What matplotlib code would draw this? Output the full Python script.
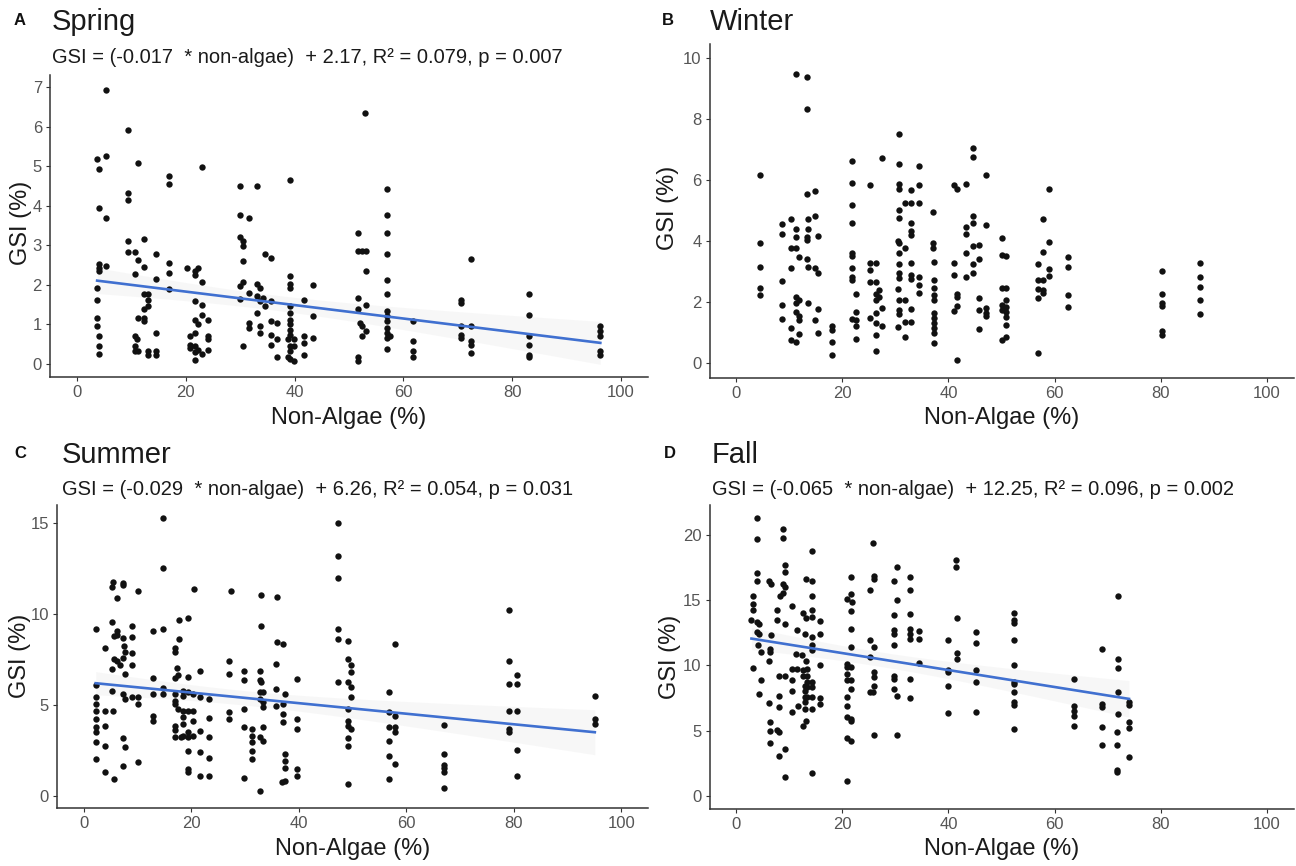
import matplotlib
matplotlib.use("Agg")
import matplotlib.pyplot as plt
import numpy as np

plt.rcParams['font.family'] = ['Liberation Sans', 'DejaVu Sans']

# ---------------- data ----------------
spring_points = [
    (5.4,6.92),(9.3,5.92),(3.7,5.18),(5.4,5.25),(4.1,4.93),(11.3,5.09),(16.9,4.76),(16.9,4.55),(9.3,4.33),(9.3,4.14),
    (23.0,4.98),(29.9,4.50),(33.0,4.50),(39.2,4.64),(53.0,6.34),(57.0,4.41),(4.1,3.93),(5.4,3.68),(29.9,3.76),(31.6,3.68),(57.0,3.76),
    (57.0,3.30),(9.3,3.11),(9.3,2.83),(10.6,2.83),(12.3,3.15),(14.6,2.77),(11.3,2.63),(10.6,2.27),(12.3,2.46),(4.1,2.54),(4.1,2.42),
    (4.1,2.35),(5.4,2.48),(3.7,1.93),(3.7,1.63),(3.7,1.17),(3.7,0.96),(4.1,0.70),(4.1,0.45),(4.1,0.26),(14.6,2.14),(16.9,2.56),
    (16.9,2.31),(16.9,1.90),(12.3,1.76),(13.0,1.76),(13.0,1.63),(13.0,1.46),(12.3,1.38),(11.3,1.17),(12.3,1.17),(12.3,1.08),
    (10.6,0.70),(11.1,0.62),(10.6,0.45),(10.6,0.32),(11.3,0.32),(13.0,0.32),(13.0,0.24),(14.6,0.79),(14.6,0.32),(14.6,0.24),
    (20.3,2.43),(21.7,2.35),(22.2,2.43),(21.7,2.24),(23.0,2.07),(21.7,1.59),(23.0,1.50),(23.0,1.25),(21.7,1.11),(24.1,1.12),
    (22.2,1.00),(20.7,0.70),(21.7,0.79),(24.1,0.70),(24.1,0.62),(20.7,0.49),(21.7,0.45),(20.7,0.41),(22.2,0.36),(23.0,0.26),
    (21.7,0.30),(24.1,0.36),(21.7,0.09),
    (29.9,3.20),(30.6,3.11),(30.6,2.98),(30.6,2.60),(29.9,1.97),(30.6,2.07),(29.9,1.65),(31.6,1.80),(33.0,2.01),(33.7,1.93),
    (33.0,1.72),(33.7,1.59),(34.1,1.67),(34.5,1.46),(35.6,1.59),(33.0,1.29),(31.6,1.04),(31.6,0.91),(33.7,0.96),(33.7,0.79),
    (30.6,0.45),(34.5,2.77),(35.6,2.69),(35.6,1.08),(35.6,0.74),(35.6,0.49),(36.8,1.04),(36.8,0.62),(36.8,0.19),
    (39.2,2.22),(39.2,2.01),(39.2,1.93),(39.2,1.46),(39.2,1.29),(39.2,1.12),(39.2,1.00),(39.2,0.87),(39.2,0.74),(38.7,0.62),
    (39.8,0.62),(39.2,0.45),(39.8,0.45),(39.2,0.32),(38.7,0.19),(39.8,0.07),(39.2,0.13),(41.8,1.63),(41.8,0.70),(41.8,0.53),
    (41.8,0.24),(43.4,1.99),(43.4,1.21),(43.4,0.66),
    (51.7,3.32),(51.7,2.86),(52.3,2.86),(53.1,2.86),(53.1,2.35),(51.7,1.67),(53.1,1.50),(51.7,1.38),(52.1,1.04),(52.3,0.96),
    (53.1,0.83),(52.3,0.70),(51.7,0.19),(51.7,0.07),
    (57.0,2.77),(57.0,2.12),(57.0,1.76),(57.0,1.34),(57.0,1.21),(57.0,1.08),(57.0,0.91),(57.0,0.79),(57.0,0.66),(57.5,0.70),(57.0,0.38),
    (61.7,1.08),(61.7,0.57),(61.7,0.32),(61.7,0.19),
    (70.5,1.63),(70.5,1.55),(70.5,0.96),(70.5,0.74),(70.5,0.66),
    (72.4,2.66),(72.4,0.96),(72.4,0.57),(72.4,0.49),(72.4,0.28),
    (83.1,1.78),(83.1,1.25),(83.1,0.70),(83.1,0.47),(83.1,0.24),(83.1,0.17),
    (96.2,0.96),(96.2,0.83),(96.2,0.70),(96.2,0.32),(96.2,0.24),
]

winter_points = [
    (11.2,9.49),(13.4,9.38),(13.4,8.33),(30.7,7.52),(44.6,7.05),(44.6,6.74),(4.5,6.15),(47.0,6.17),(21.9,6.62),(27.4,6.72),
    (30.7,6.52),(34.4,6.45),(21.9,5.90),(25.3,5.83),(30.7,5.88),(30.7,5.72),(34.4,5.83),(33.0,5.66),(41.0,5.85),(41.6,5.72),
    (43.3,5.88),(58.9,5.72),(13.4,5.55),(14.9,5.63),(21.9,5.17),(31.9,5.25),(33.0,5.25),(34.4,5.25),(30.7,5.01),(37.1,4.94),
    (10.4,4.72),(13.6,4.72),(14.9,4.81),(30.7,4.75),(44.6,4.83),(57.9,4.72),
    (8.6,4.55),(13.6,4.41),(11.2,4.41),(21.9,4.60),(8.6,4.22),(11.2,4.12),(13.4,4.03),(13.4,4.14),(15.4,4.16),(4.5,3.92),
    (10.4,3.76),(11.2,3.76),(11.8,3.49),(13.4,3.40),(10.4,3.11),(13.6,3.16),(14.9,3.11),(15.4,2.94),(4.5,3.16),(4.5,2.45),
    (4.5,2.23),(8.6,2.70),(8.6,1.91),(8.6,1.44),(11.2,2.18),(11.8,2.07),(11.2,1.96),(13.6,1.96),(11.2,1.69),(11.8,1.53),
    (11.8,1.42),(10.4,1.14),(11.8,0.96),(10.4,0.76),(11.2,0.68),(15.4,1.77),(14.9,1.40),(15.4,0.98),(18.0,1.22),(18.0,1.09),
    (18.0,0.68),(18.0,0.27),
    (21.9,3.60),(21.9,3.51),(21.9,3.11),(21.9,2.83),(21.9,2.72),(22.5,2.27),(22.5,1.69),(21.9,1.44),(22.5,1.42),(22.5,1.20),(22.5,0.78),
    (25.3,3.27),(26.3,3.27),(25.3,3.05),(25.3,2.67),(26.3,2.67),(27.0,2.38),(26.3,2.27),(27.0,2.16),(26.3,2.07),(27.4,1.80),
    (25.3,1.47),(26.3,1.63),(26.3,1.31),(27.4,1.20),(26.3,0.93),(26.3,0.38),
    (30.5,4.01),(30.7,3.92),(30.7,3.62),(30.7,3.25),(30.7,2.94),(30.7,2.78),(30.5,2.42),(30.7,2.07),(30.7,1.74),(30.7,1.61),
    (30.5,1.18),(31.9,3.76),(31.9,2.07),(31.9,1.36),(33.0,1.36),(31.9,0.85),(33.0,4.58),(33.0,4.34),(33.0,4.20),(33.0,3.29),
    (33.0,2.89),(33.0,2.75),(33.0,1.77),(34.4,2.83),(34.4,2.56),(34.4,2.29),
    (37.1,3.92),(37.1,3.76),(37.3,3.32),(37.3,2.72),(37.3,2.45),(37.3,2.23),(37.3,2.07),(37.3,1.63),(37.3,1.47),(37.3,1.31),
    (37.3,1.14),(37.3,1.00),(37.3,0.65),
    (41.0,3.27),(41.0,2.89),(41.6,2.27),(41.6,2.16),(41.6,1.87),(41.0,1.72),(41.6,0.11),
    (43.3,4.47),(43.3,4.23),(43.3,3.62),(43.3,2.83),(44.6,4.60),(44.6,3.84),(45.8,3.87),(44.6,3.25),(45.8,3.40),(44.6,2.96),
    (45.8,2.13),(45.8,1.74),(47.0,1.80),(47.0,1.63),(47.0,1.53),(45.8,1.11),(47.0,4.52),
    (50.0,4.09),(50.0,3.54),(50.8,3.51),(50.0,2.45),(50.8,2.45),(50.0,1.91),(50.8,2.07),(50.8,1.85),(50.8,1.69),(50.8,1.50),
    (50.8,1.25),(50.0,1.74),(50.8,0.87),(50.0,0.76),
    (56.8,3.24),(56.8,2.72),(57.9,2.72),(56.8,2.42),(57.9,2.40),(56.8,2.13),(57.9,2.29),(57.9,3.65),(58.9,3.98),(58.9,3.07),
    (58.9,2.86),(56.8,0.33),
    (62.5,3.47),(62.5,3.16),(62.5,2.23),(62.5,1.85),
    (80.2,3.02),(80.2,2.27),(80.2,1.96),(80.2,1.87),(80.2,1.04),(80.2,0.93),
    (87.4,3.27),(87.4,2.83),(87.4,2.48),(87.4,2.07),(87.4,1.61),
]

summer_points = [
    (14.8,15.27),(47.3,15.0),(47.3,13.18),(14.8,12.55),(47.3,12.0),(5.5,11.78),(7.2,11.73),(5.2,11.49),(7.2,11.58),(10.0,11.27),
    (20.5,11.36),(27.3,11.27),(6.25,10.87),(33.0,11.04),(35.9,10.96),(79.2,10.22),(2.2,9.15),(5.2,9.55),(8.9,9.36),(6.25,9.09),
    (12.8,9.04),(14.8,9.15),(17.7,9.69),(19.3,9.76),(33.0,9.33),(47.3,9.15),(5.6,8.78),(6.25,8.85),(7.2,8.67),(8.9,8.73),
    (17.7,8.64),(35.9,8.45),(37.1,8.33),(47.3,8.6),(49.1,8.5),(58.0,8.36),(3.9,8.15),(7.4,8.25),(17.0,8.15),
    (7.6,7.9),(8.9,7.87),(17.0,7.9),(5.6,7.54),(6.25,7.39),(5.2,6.99),(7.2,7.57),(6.8,7.21),(8.9,7.17),(7.6,6.71),(27.1,7.39),
    (27.1,6.71),(29.8,6.89),(29.8,6.40),(32.7,6.89),(32.7,6.40),(33.0,6.25),(35.7,7.26),(35.7,5.88),(37.5,5.61),(39.6,6.43),
    (49.1,7.54),(49.8,7.17),(49.8,6.8),(47.3,6.29),(49.1,6.29),(49.8,5.97),(49.8,5.42),(79.1,7.44),(79.1,6.16),(80.6,6.62),
    (80.6,6.16),(95.1,5.51),(17.3,7.02),(17.5,6.62),(17.0,6.47),(19.3,6.53),(21.6,6.89),(12.8,6.47),
    (2.2,6.1),(2.2,5.42),(2.2,5.06),(2.2,4.69),(2.2,4.23),(2.2,3.77),(2.2,3.49),(2.2,2.94),(2.2,2.02),(3.9,4.69),(3.9,3.82),
    (3.9,2.76),(3.9,1.29),(5.2,5.79),(5.5,4.69),(5.6,0.92),(7.2,5.61),(7.6,5.33),(7.2,3.16),(7.6,2.67),(7.2,1.65),(8.9,5.42),
    (10.0,5.42),(10.0,5.06),(10.0,1.84),(12.8,5.61),(12.8,4.41),(12.8,4.14),(14.8,5.92),(14.8,5.61),(17.0,5.61),(17.0,5.24),
    (17.0,5.06),(17.5,4.78),(17.0,3.86),(17.0,3.64),(17.0,3.22),(18.1,3.22),(18.5,5.79),(18.5,5.51),(18.5,4.69),(18.5,4.32),
    (18.5,3.95),(18.5,3.31),(19.3,5.7),(19.3,4.69),(19.3,3.49),(19.3,3.22),(19.3,2.48),(19.3,1.47),(19.3,1.29),(20.3,5.61),
    (20.3,4.69),(20.3,4.14),(20.3,3.31),(21.6,5.42),(21.6,3.58),(21.6,2.39),(21.6,1.1),(23.2,5.33),(23.2,4.28),(23.2,3.22),
    (23.2,2.11),(23.2,1.1),(27.1,4.63),(27.1,4.23),(29.8,4.78),(29.8,3.77),(29.8,1.01),(31.3,3.68),(31.3,3.31),(31.3,2.94),
    (31.3,2.48),(31.3,2.02),(32.7,5.33),(32.7,5.7),(32.7,3.22),(32.7,0.28),(33.4,5.7),(33.4,5.15),(33.4,4.87),(33.4,3.77),
    (33.4,3.03),(35.7,4.96),(37.1,5.06),(37.1,4.5),(37.1,4.04),(37.5,2.3),(37.5,1.93),(37.5,1.56),(37.5,0.83),(36.9,0.77),
    (39.6,4.23),(39.6,3.68),(39.6,1.47),(39.6,1.1),(49.1,4.78),(49.1,4.14),(49.1,3.82),(49.8,3.68),(49.1,3.16),(49.1,2.76),
    (49.1,0.64),(56.8,5.7),(56.8,4.6),(56.8,3.77),(56.8,3.03),(56.8,2.21),(56.8,0.96),(58.0,4.38),(58.0,3.77),(58.0,3.49),
    (58.0,1.75),(67.0,3.9),(67.0,2.3),(67.0,1.69),(67.0,1.51),(67.0,1.32),(67.0,0.42),(79.1,4.69),(79.1,3.68),(79.1,3.49),
    (80.6,4.69),(80.6,2.54),(80.6,1.07),(95.1,4.23),(95.1,3.95),
]

fall_points = [
    (3.9,21.28),(3.9,19.67),(8.9,20.44),(8.9,19.74),(14.3,18.8),(25.8,19.41),(41.5,18.08),(41.5,17.51),(3.9,17.05),(3.9,16.49),
    (6.2,16.49),(6.5,16.23),(9.3,17.69),(9.3,17.18),(8.8,16.28),(13.2,16.59),(14.3,16.49),(21.7,16.79),(26.0,16.85),(26.0,16.59),
    (30.4,17.51),(29.8,16.49),(32.7,16.79),(32.7,15.77),(25.2,15.77),(3.1,15.33),(3.1,14.74),(3.1,14.23),(9.3,16.0),(8.8,15.56),
    (8.3,15.33),(14.3,15.33),(20.9,15.13),(21.7,15.51),(21.9,14.87),(30.4,15.0),(72.0,15.31),(7.8,14.23),(10.5,14.54),(12.7,14.03),
    (14.3,14.23),(21.7,14.15),(29.8,13.85),(32.7,13.92),(52.3,14.03),(52.3,13.51),(2.9,13.51),(3.9,13.33),(4.4,13.21),(7.8,13.46),
    (9.3,13.21),(13.2,13.67),(14.3,13.72),(15.9,13.41),(41.7,13.64),(52.3,13.26),(4.0,12.56),(4.4,12.38),(6.5,12.31),(11.4,12.74),
    (12.9,12.38),(14.3,12.18),(15.9,12.44),(21.7,12.82),(29.8,12.74),(29.8,12.44),(32.7,12.82),(32.7,12.44),(34.5,12.62),(32.7,12.05),
    (34.5,12.05),(25.2,11.97),(39.9,11.92),(45.1,12.56),(52.3,11.97),
    (4.1,11.54),(4.7,11.03),(6.4,11.28),(6.4,11.03),(6.2,10.38),(3.1,9.79),(4.7,8.9),(4.4,7.82),(6.2,7.1),(6.4,5.69),(6.4,5.0),
    (6.4,4.05),(8.0,9.23),(8.0,6.79),(8.1,7.69),(7.8,5.08),(8.1,4.92),(8.1,3.08),(9.3,9.23),(9.3,3.59),(9.3,1.49),(10.5,9.74),
    (10.5,8.85),(10.5,8.08),(10.5,6.41),(11.2,10.9),(11.4,9.74),(11.6,6.92),(12.4,10.77),(12.6,9.62),(12.6,9.23),(12.9,8.46),
    (12.9,8.08),(12.9,7.56),(12.9,7.18),(12.9,6.67),(12.6,5.38),(13.2,5.77),(13.2,10.38),(13.4,9.74),(13.4,9.23),(13.4,8.72),
    (13.4,8.33),(13.4,7.56),(14.3,11.54),(14.3,11.15),(14.3,8.77),(14.3,8.33),(14.3,7.56),(14.3,6.67),(14.3,1.74),(15.9,10.05),
    (15.9,7.49),(15.9,7.05),(20.9,10.13),(20.9,9.87),(20.9,9.36),(20.9,8.85),(20.9,7.56),(20.9,6.92),(20.9,6.03),(20.9,4.41),
    (20.9,1.15),(21.7,11.41),(21.7,9.87),(21.7,8.85),(21.7,8.21),(21.7,5.9),(21.7,4.23),(21.7,5.77),(25.2,10.64),(25.2,8.0),
    (25.8,7.95),(26.0,9.49),(26.0,9.1),(26.0,8.46),(26.0,11.41),(26.0,4.67),(29.8,11.54),(29.8,9.23),(29.8,8.97),(29.8,8.21),
    (30.4,7.69),(30.4,4.67),(32.7,8.97),(32.7,7.49),(34.5,10.18),(39.9,9.62),(39.9,9.49),(39.9,8.46),(39.9,6.36),(41.6,10.97),
    (41.6,10.46),(45.1,11.74),(45.1,9.62),(45.1,8.77),(45.1,6.46),(52.3,10.05),(52.3,8.77),(52.3,8.59),(52.3,7.95),(52.3,7.18),
    (52.3,6.97),(52.3,5.13),(63.6,8.97),(63.6,6.92),(63.6,6.54),(63.6,6.10),(63.6,5.33),(69.0,11.28),(69.0,7.05),(69.0,6.79),
    (69.0,5.26),(69.0,3.9),(72.0,10.51),(72.0,9.79),(72.0,7.95),(72.0,6.28),(71.7,4.87),(71.7,3.9),(71.7,2.0),(71.7,1.85),
    (74.0,7.23),(74.0,6.97),(74.0,5.69),(74.0,5.18),(74.0,2.95),
]

# regression coefficients printed on the chart (slope, intercept); None = no line
spring_fit = (-0.017, 2.17)
winter_fit = None
summer_fit = (-0.029, 6.26)
fall_fit = (-0.065, 12.25)

panel_letters = ["A", "B", "C", "D"]
panel_titles = ["Spring", "Winter", "Summer", "Fall"]
panel_subtitles = [
    "GSI = (-0.017  * non-algae)  + 2.17, R\u00b2 = 0.079, p = 0.007",
    None,
    "GSI = (-0.029  * non-algae)  + 6.26, R\u00b2 = 0.054, p = 0.031",
    "GSI = (-0.065  * non-algae)  + 12.25, R\u00b2 = 0.096, p = 0.002",
]
x_ticks = [0, 20, 40, 60, 80, 100]
y_ticks = [[0, 1, 2, 3, 4, 5, 6, 7], [0, 2, 4, 6, 8, 10], [0, 5, 10, 15], [0, 5, 10, 15, 20]]
x_label = "Non-Algae (%)"
y_label = "GSI (%)"

# ---------------- layout ----------------
W, H = 1296, 866
fig = plt.figure(figsize=(W / 100, H / 100), dpi=100)


def rect(l, r, b, t):
    return [l / W, 1 - b / H, (r - l) / W, (b - t) / H]


layout = [
    dict(rect=rect(49.8, 648.2, 377.1, 75.1), ylim=(-0.33, 7.3), letter=(14, 25), title=(52, 30), sub=(52, 63),
         ylab=(21, 223), xlab_y=424),
    dict(rect=rect(709.5, 1293.6, 378.3, 44.3), ylim=(-0.5, 10.45), letter=(662, 25), title=(710, 30), sub=None,
         ylab=(668, 208), xlab_y=424),
    dict(rect=rect(57, 648, 807.8, 504.8), ylim=(-0.65, 16.0), letter=(14, 458), title=(62, 463), sub=(62, 495),
         ylab=(20, 656), xlab_y=855),
    dict(rect=rect(709.5, 1293.6, 809, 505), ylim=(-1.0, 22.3), letter=(664, 458), title=(712, 463), sub=(712, 495),
         ylab=(670, 657), xlab_y=855),
]

datasets = [spring_points, winter_points, summer_points, fall_points]
fits = [spring_fit, winter_fit, summer_fit, fall_fit]

spine_col = "#333333"
tick_col = "#555555"

for i in range(4):
    L = layout[i]
    ax = fig.add_axes(L["rect"])
    pts = np.array(datasets[i])
    x, y = pts[:, 0], pts[:, 1]

    fit = fits[i]
    if fit is not None:
        slope, intercept = fit
        xs = np.linspace(x.min(), x.max(), 100)
        ys = slope * xs + intercept
        resid = y - (slope * x + intercept)
        n = len(x)
        s = np.sqrt(np.sum(resid ** 2) / (n - 2))
        se = s * np.sqrt(1.0 / n + (xs - x.mean()) ** 2 / np.sum((x - x.mean()) ** 2))
        ax.fill_between(xs, ys - 1.97 * se, ys + 1.97 * se, color="#999999", alpha=0.07, lw=0, zorder=1)

    ax.scatter(x, y, s=21, color="#111111", linewidths=0, zorder=2)

    if fit is not None:
        ax.plot(xs, ys, color="#4070D0", lw=1.9, zorder=3)

    ax.set_xlim(-5, 105)
    ax.set_ylim(*L["ylim"])
    ax.set_xticks(x_ticks)
    ax.set_yticks(y_ticks[i])
    for side in ["top", "right"]:
        ax.spines[side].set_visible(False)
    for side in ["left", "bottom"]:
        ax.spines[side].set_color(spine_col)
        ax.spines[side].set_linewidth(1.1)
    ax.tick_params(axis="both", direction="out", length=3.2, width=0.8, color=spine_col,
                   labelcolor=tick_col, labelsize=12, pad=2.5)

    # texts
    lx, ly = L["letter"]
    fig.text(lx / W, 1 - ly / H, panel_letters[i], fontsize=12, fontweight="bold", color="#111111",
             ha="left", va="baseline")
    tx, ty = L["title"]
    fig.text(tx / W, 1 - ty / H, panel_titles[i], fontsize=21, color="#1a1a1a", ha="left", va="baseline")
    if L["sub"] is not None:
        sx, sy = L["sub"]
        fig.text(sx / W, 1 - sy / H, panel_subtitles[i], fontsize=14.5, color="#1a1a1a", ha="left", va="baseline")
    r = L["rect"]
    fig.text(r[0] + r[2] / 2, 1 - L["xlab_y"] / H, x_label, fontsize=17, color="#1a1a1a", ha="center",
             va="baseline")
    yx, yy = L["ylab"]
    fig.text(yx / W, 1 - yy / H, y_label, fontsize=17, color="#1a1a1a", ha="center", va="center",
             rotation=90)

fig.savefig("out.png", dpi=100, facecolor="white")
